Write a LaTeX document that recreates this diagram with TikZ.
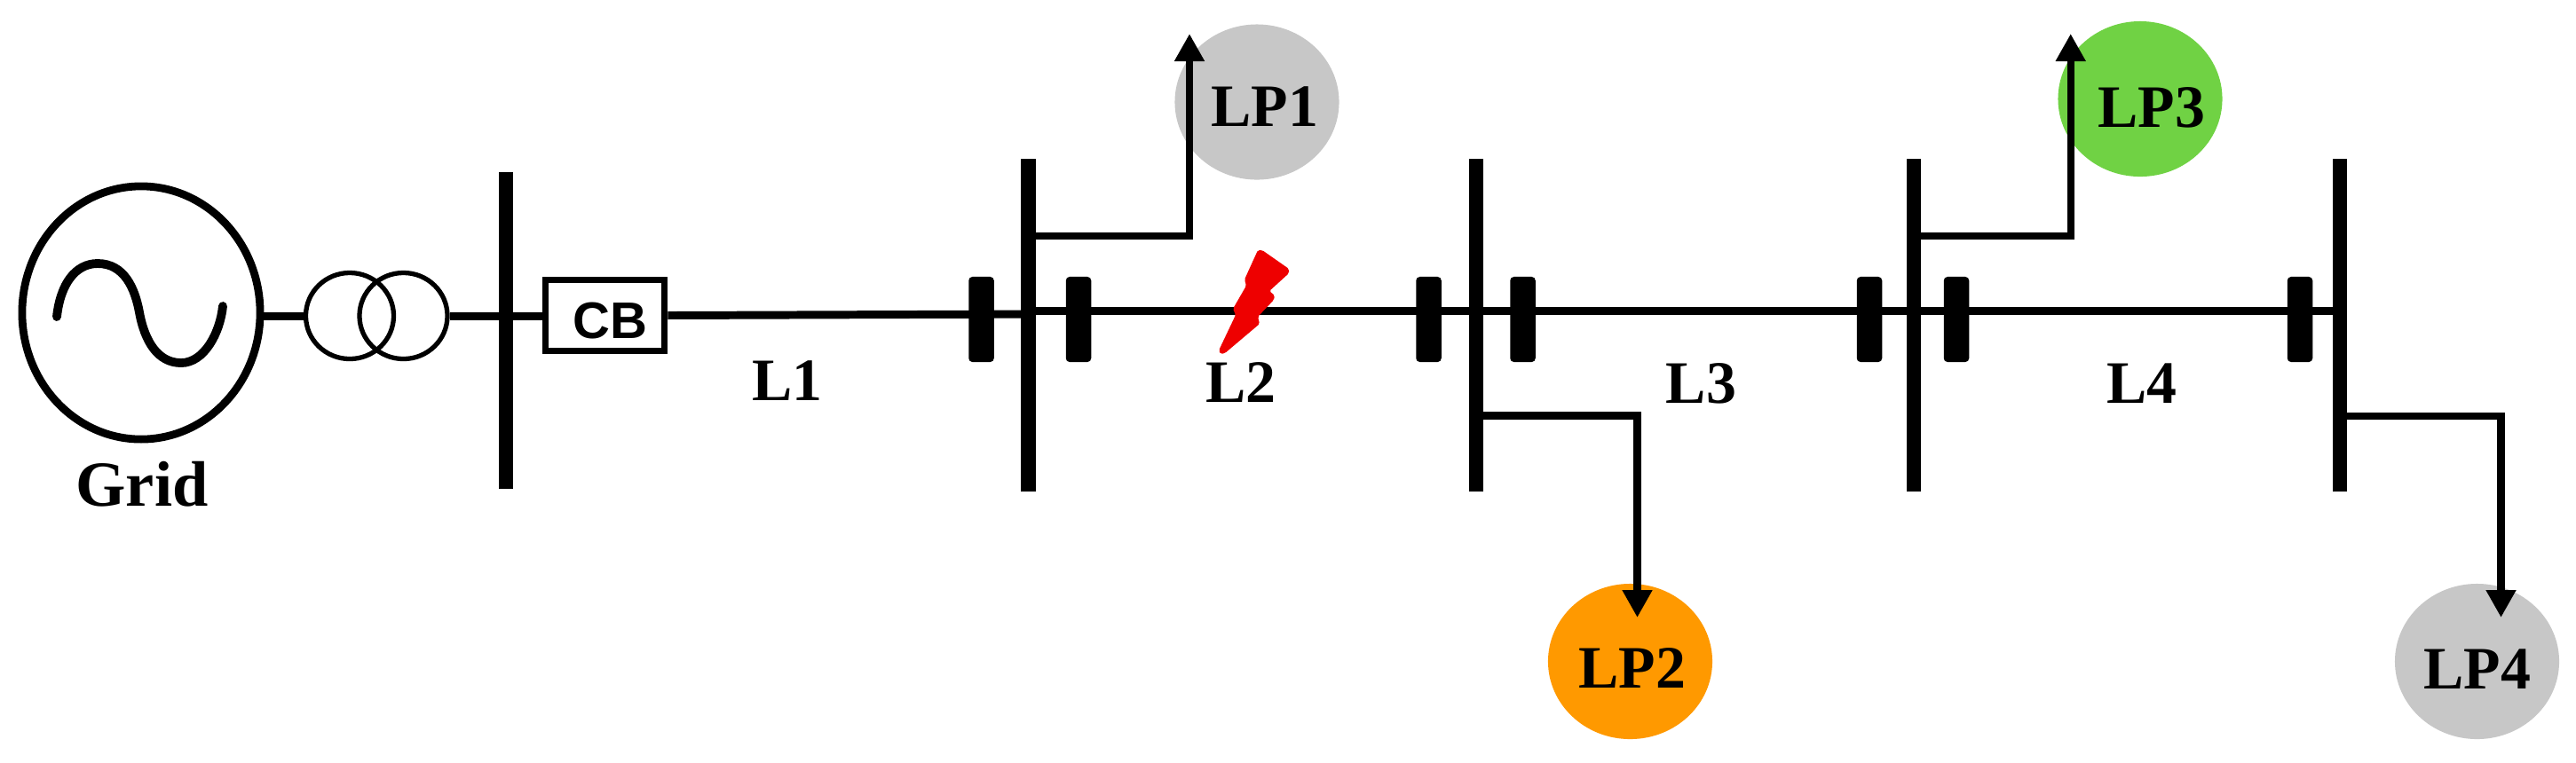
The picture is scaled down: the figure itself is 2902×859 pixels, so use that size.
\documentclass[tikz,border=0pt]{standalone}
\usepackage{fontspec}
\setmainfont{Liberation Serif}
\setsansfont{Liberation Sans}
\usetikzlibrary{arrows.meta,shapes.geometric}
\definecolor{lpgrey}{HTML}{C7C7C7}
\definecolor{lpgreen}{HTML}{70D244}
\definecolor{lporange}{HTML}{FF9900}
\definecolor{faultred}{HTML}{EE0000}
\tikzset{
  busbar/.style={rectangle, fill, inner sep=0, minimum width=.165cm, minimum height=3.75cm},
  breaker/.style={rectangle, fill, inner sep=0, rounded corners=1.2pt, minimum width=.285cm, minimum height=.96cm},
  wire/.style={line width=2.55pt},
  feed/.style={line width=2.35pt, -{Triangle[width=.32cm,length=.31cm]}},
  coil/.style={ellipse, draw, inner sep=0, line width=1.5pt, minimum width=.99cm, minimum height=.97cm},
  loadp/.style={ellipse, inner sep=0, minimum width=1.85cm, minimum height=1.75cm},
  lbl/.style={anchor=base, inner sep=0, font=\fontsize{19.3}{20}\selectfont\bfseries},
}
\begin{document}
\begin{tikzpicture}[x=.01cm,y=-.01cm]
\useasboundingbox (0,0) rectangle (2902,859);
% source
\node[ellipse, draw, inner sep=0, line width=2.5pt, minimum width=2.68cm, minimum height=2.85cm] (grid) at (159,352.5){};
\draw[line width=2.8pt, line cap=round] (64,357) .. controls (68,320) and (85,297) .. (110,297)
  .. controls (140,297) and (152,325) .. (157,352) .. controls (163,385) and (178,409) .. (204,409)
  .. controls (230,409) and (248,375) .. (251,345);
\node[lbl, font=\fontsize{20.6}{21}\selectfont\bfseries] (gridt) at (160,570){Grid};
\node[coil] (xfa) at (394,356){};
\node[coil] (xfb) at (454.5,356){};
\node[rectangle, draw, inner sep=0, line width=2.2pt, minimum width=1.34cm, minimum height=.8cm] (cb) at (681.5,355.5){};
\node[lbl, font=\fontsize{16.5}{17}\sffamily\bfseries] (cbt) at (687.5,381){CB};
% buses
\node[busbar, minimum height=3.57cm] (busa) at (570,372.5){};
\node[busbar] (busb) at (1158.5,366.5){};
\node[busbar] (busc) at (1663,366.5){};
\node[busbar] (busd) at (2156,366.5){};
\node[busbar] (buse) at (2636,366.5){};
\node[breaker] (brka) at (1105.5,360){};
\node[breaker] (brkb) at (1215,360){};
\node[breaker] (brkc) at (1609.5,360){};
\node[breaker] (brkd) at (1715.5,360){};
\node[breaker] (brke) at (2106,360){};
\node[breaker] (brkf) at (2204,360){};
\node[breaker] (brkg) at (2591,360){};
% loads
\node[loadp, fill=lpgrey] (lpa) at (1416,115){};
\node[loadp, fill=lporange] (lpb) at (1836.5,745.5){};
\node[loadp, fill=lpgreen] (lpc) at (2411,111.5){};
\node[loadp, fill=lpgrey] (lpd) at (2790.5,745.5){};
\node[lbl] (lpat) at (1425,142){LP1};
\node[lbl] (lpbt) at (1839,775){LP2};
\node[lbl] (lpct) at (2424,143){LP3};
\node[lbl] (lpdt) at (2791,776){LP4};
\node[lbl] (lna) at (887,451){L1};
\node[lbl] (lnb) at (1398,453){L2};
\node[lbl] (lnc) at (1916.5,454){L3};
\node[lbl] (lnd) at (2413,454){L4};
% lines
\coordinate (tapa) at (1158.5,354);
\coordinate (tapb) at (1158.5,350.5);
\coordinate (tapc) at (1663,350.5);
\coordinate (tapd) at (2156,350.5);
\coordinate (tape) at (2636,350.5);
\draw[wire] (xfa.west -| grid.east) -- (xfa.west);
\draw[wire] (xfb.east) -- (xfb.east -| cb.west);
\draw[wire] (cb.east) -- (tapa);
\draw[wire] (tapb) -- (tapc);
\draw[wire] (tapc) -- (tapd);
\draw[wire] (tapd) -- (tape);
% feeders
\coordinate (fda) at (1158.5,266);
\coordinate (ara) at (1340,38);
\coordinate (fdb) at (1663,468.5);
\coordinate (arb) at (1844.5,696);
\coordinate (fdc) at (2156,266);
\coordinate (arc) at (2332.7,38);
\coordinate (fdd) at (2636,469);
\coordinate (ard) at (2817.5,696);
\draw[feed] (fda) -| (ara);
\draw[feed] (fdb) -| (arb);
\draw[feed] (fdc) -| (arc);
\draw[feed] (fdd) -| (ard);
% fault
\fill[faultred, rounded corners=.5pt] (1417,282) -- (1422,282) -- (1452,303) -- (1452,308) -- (1430,328)
  -- (1436,333) -- (1435,338) -- (1417,357) -- (1419,365) -- (1380,398) -- (1375,399) -- (1373,395)
  -- (1392,355) -- (1389,348) -- (1404,322) -- (1402,315) -- cycle;
\end{tikzpicture}
\end{document}
